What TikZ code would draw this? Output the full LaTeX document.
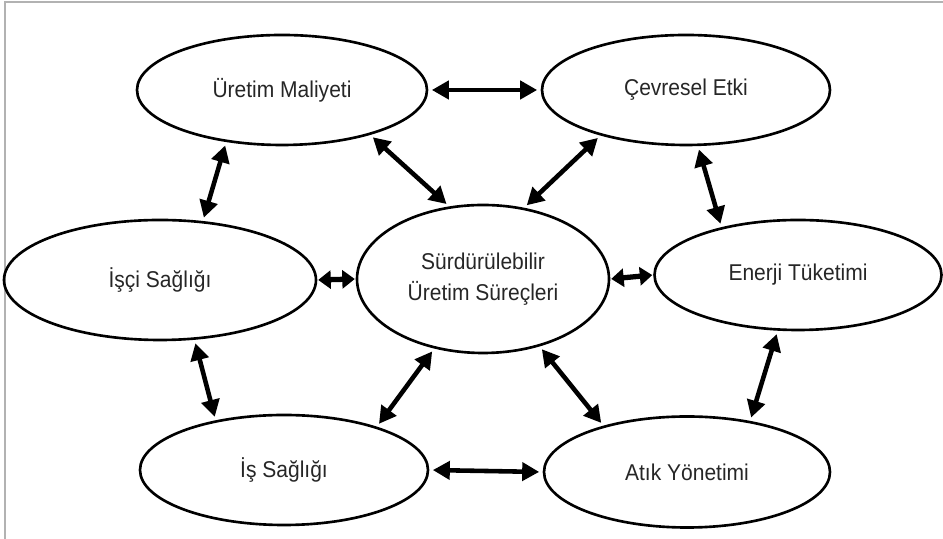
\documentclass[tikz,border=0pt]{standalone}
\usepackage{fontspec}
\setmainfont{Liberation Sans}[FakeStretch=0.92]
\usepackage{tikz}
\usetikzlibrary{arrows.meta,shapes.geometric}
\tikzset{%
	oval/.style  = {draw, ellipse, line width=1.5pt, minimum width=5.76cm, minimum height=2.2cm, inner sep=0pt, text centered, align=center, text=black!85, font=\fontsize{13}{18}\selectfont},
	link/.style  = {line width=2.6pt, {Triangle[length=3.4mm,width=3.6mm]}-{Triangle[length=3.4mm,width=3.6mm]}, shorten <=2pt, shorten >=2pt},
	short/.style = {line width=3pt, {Triangle[length=2.5mm,width=3.6mm]}-{Triangle[length=2.5mm,width=3.6mm]}, shorten <=0.5pt, shorten >=0.5pt},
	frame/.style = {draw=black!30, line width=1.2pt},
}

\begin{document}
\begin{tikzpicture}
	\useasboundingbox (0,0) rectangle (18.86,10.78);
	\draw[frame] (0.1,0) -- (0.1,10.74) -- (18.86,10.74);
	
	\node[oval, minimum width=5.8cm] (maliyet) at (5.64,8.98) {Üretim Maliyeti};
	\node[oval] (cevre) at (13.72,8.98) {Çevresel Etki};
	\node[oval, minimum width=5.04cm, minimum height=2.96cm] (surec) at (9.66,5.20) {Sürdürülebilir\\Üretim Süreçleri};
	\node[oval, minimum width=6.24cm, minimum height=2.4cm] (isci) at (3.20,5.18) {İşçi Sağlığı};
	\node[oval, minimum width=5.74cm] (enerji) at (15.96,5.28) {Enerji Tüketimi};
	\node[oval] (isg) at (5.68,1.38) {İş Sağlığı};
	\node[oval, minimum width=5.72cm, minimum height=2.22cm] (atik) at (13.74,1.34) {Atık Yönetimi};
	
	\draw[link] (maliyet.east) -- (cevre.west);
	\draw[link] (maliyet.-27) -- (surec.115);
	\draw[link] (cevre.208) -- (surec.60);
	\draw[link] (maliyet.223) -- (isci.54);
	\draw[link] (cevre.-78) -- (enerji.148);
	\draw[short] (isci.east) -- (surec.west);
	\draw[short] (surec.east) -- (enerji.west);
	\draw[link] (isci.-60) -- (isg.144);
	\draw[link] (enerji.250) -- (atik.39);
	\draw[link] (surec.235) -- (isg.25);
	\draw[link] (surec.-50) -- (atik.151);
	\draw[link] (isg.east) -- (atik.west);
\end{tikzpicture}
\end{document}
